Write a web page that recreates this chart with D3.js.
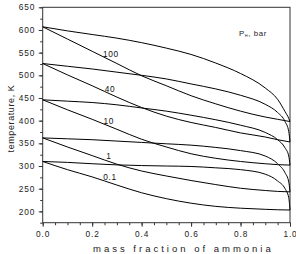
<!DOCTYPE html>
<html><head><meta charset="utf-8">
<script src="https://cdn.jsdelivr.net/npm/d3@7"></script>
<style>
body{margin:0;background:#fff}
svg{display:block;font-family:"Liberation Sans",Arial,sans-serif}
</style></head><body>
<div id="chart"></div>
<script>
// mass fraction grid for the two branches
var xBub = [0, .1, .2, .3, .4, .5, .6, .7, .8, .9, .95, 1]
var xDew = [0, .1, .2, .3, .4, .5, .6, .7, .8, .9, .95, .98, .995, 1]

// temperatures, K (dew = upper branch, bub = lower branch)
var dew100 = [607, 598, 590, 582, 572, 560, 546, 527, 504, 472, 447, 420, 405, 398]
var bub100 = [607, 580, 553, 526, 499, 477, 455, 437, 421, 408, 403, 398]
var dew40  = [526, 520, 514, 507, 500, 492, 481, 470, 456, 436, 418, 398, 376, 353]
var bub40  = [526, 501, 477, 452, 429, 410, 396, 385, 373, 364, 358, 353]
var dew10  = [446, 443, 440, 435, 428, 421, 412, 402, 390, 374, 358, 340, 322, 302]
var bub10  = [446, 424, 403, 381, 359, 342, 327, 317, 310, 305, 303, 302]
var dew1   = [362, 360, 358, 355, 352, 349, 346, 341, 334, 322, 305, 285, 265, 243]
var bub1   = [362, 342, 323, 304, 289, 278, 268, 259, 251, 246, 244, 243]
var dew01  = [310, 308, 305, 302.5, 301, 300, 299, 296, 292, 282, 267, 250, 230, 203]
var bub01  = [310, 292, 276, 258, 241, 228, 218, 211, 207, 204.5, 203.5, 203]

var pressures = ['100', '40', '10', '1', '0.1']
var labelX = [0.276, 0.272, 0.267, 0.268, 0.272]
var labelT = [541, 463, 393, 315, 269]

var xTicks = [0, .2, .4, .6, .8, 1]
var yTicks = [200, 250, 300, 350, 400, 450, 500, 550, 600, 650]

var curves = [dew100, bub100, dew40, bub40, dew10, bub10, dew1, bub1, dew01, bub01]
  .map(ts => ts.map((t, i) => [(ts.length == xDew.length ? xDew : xBub)[i], t]))

var width = 296, height = 254
var m = {left: 42.7, right: 6, top: 7.3, bottom: 31.3}

var svg = d3.select('#chart').append('svg')
  .attr('width', width).attr('height', height)

var x = d3.scaleLinear([0, 1], [m.left, width - m.right])
var y = d3.scaleLinear([175, 650], [height - m.bottom, m.top])

var axisColor = '#333'

// minor ticks
var gx = svg.append('g').attr('transform', `translate(0,${y(175)})`)
gx.call(d3.axisBottom(x).tickValues(d3.range(0, 1.001, .05)).tickSize(2.5).tickFormat(''))
gx.select('.domain').remove()
var gx2 = svg.append('g').attr('transform', `translate(0,${y(175)})`)
gx2.call(d3.axisBottom(x).tickValues(xTicks).tickSize(4).tickPadding(4).tickFormat(d3.format('.1f')))
gx2.select('.domain').remove()

var gy = svg.append('g').attr('transform', `translate(${x(0)},0)`)
gy.call(d3.axisLeft(y).tickValues(d3.range(175, 651, 25)).tickSize(2.5).tickFormat(''))
gy.select('.domain').remove()
var gy2 = svg.append('g').attr('transform', `translate(${x(0)},0)`)
gy2.call(d3.axisLeft(y).tickValues(yTicks).tickSize(4).tickPadding(3.5))
gy2.select('.domain').remove()

svg.selectAll('.tick line').attr('stroke', axisColor)
svg.selectAll('.tick text')
  .attr('fill', '#222').style('font-size', '8.3px').style('letter-spacing', '0.9px')

// frame
svg.append('rect')
  .attr('x', x(0)).attr('y', y(650))
  .attr('width', x(1) - x(0)).attr('height', y(175) - y(650))
  .attr('fill', 'none').attr('stroke', axisColor).attr('stroke-width', 1)

var line = d3.line().x(d => x(d[0])).y(d => y(d[1])).curve(d3.curveMonotoneX)

svg.append('g').selectAll('path').data(curves).join('path')
  .attr('d', line)
  .attr('fill', 'none').attr('stroke', '#000').attr('stroke-width', 1)

svg.append('g').selectAll('text').data(pressures).join('text')
  .attr('x', (d, i) => x(labelX[i]))
  .attr('y', (d, i) => y(labelT[i]))
  .attr('text-anchor', 'middle')
  .style('font-size', '8.3px').style('letter-spacing', '0.7px')
  .attr('fill', '#111')
  .text(d => d)

var pl = svg.append('text')
  .attr('x', 239).attr('y', 36)
  .style('font-size', '7.8px').style('letter-spacing', '0.6px').attr('fill', '#222')
pl.append('tspan').text('P')
pl.append('tspan').text('H').style('font-size', '4px').attr('dy', 1)
pl.append('tspan').text(', bar').attr('dy', -1)

svg.append('text')
  .attr('x', 93).attr('y', 252)
  .style('font-size', '9.5px').style('letter-spacing', '3px').attr('fill', '#222')
  .text('mass fraction of ammonia')

svg.append('text')
  .attr('transform', `translate(13.5,118.5) rotate(-90)`)
  .attr('text-anchor', 'middle')
  .style('font-size', '9px').style('letter-spacing', '0.6px').attr('fill', '#222')
  .text('temperature, K')
</script>
</body></html>
